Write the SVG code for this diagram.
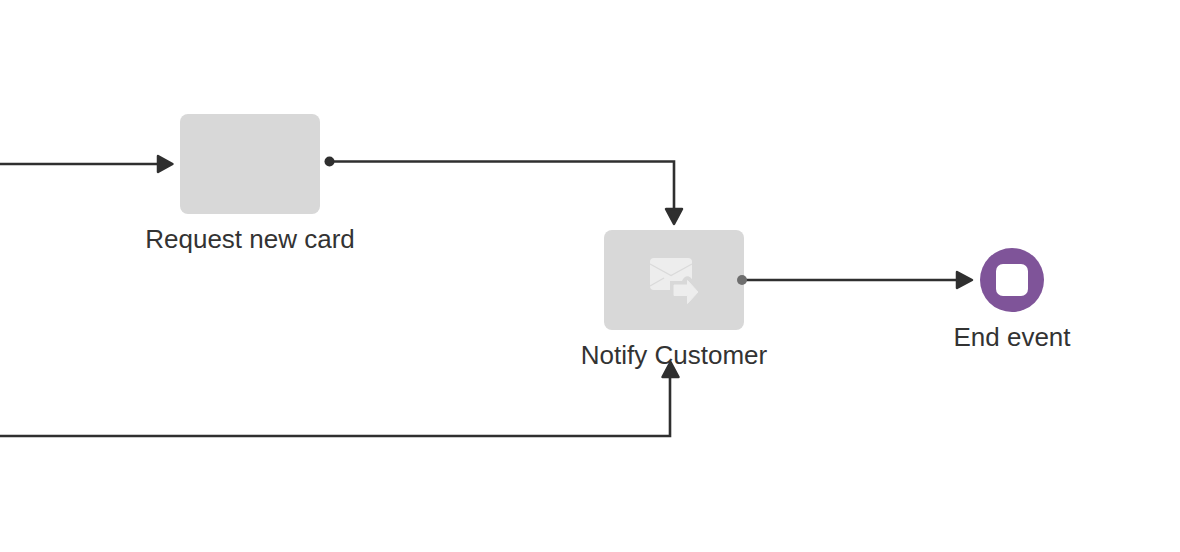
<svg xmlns="http://www.w3.org/2000/svg" width="1180" height="552" viewBox="0 0 1180 552">
<style>
.task{fill:#d8d8d8}
.lbl{font-family:"Liberation Sans",Arial,sans-serif;font-size:26px;fill:#333;text-anchor:middle}
.edge{fill:none;stroke:#2f2f2f;stroke-width:2.600;stroke-linejoin:miter}
.head{fill:#2f2f2f;stroke:#2f2f2f;stroke-width:2.500;stroke-linejoin:round}
</style>
<rect width="1180" height="552" fill="#fff"/>
<g id="node-request">
<rect class="task" x="180" y="114" width="140" height="100" rx="8"/>
<text class="lbl" x="250" y="248">Request new card</text>
</g>
<g id="node-notify">
<rect class="task" x="604" y="230" width="140" height="100" rx="8"/>
<g id="icon-send">
<rect x="650" y="258" width="42" height="32" rx="4" fill="#ededed"/>
<path d="M650 264L671 275.500L692 264M650 286L664 278" fill="none" stroke="#dadada" stroke-width="1.300"/>
<path d="M670 299V281H682C684 276 688 275 691 278L702 292L687 308H684V299Z" fill="#d8d8d8"/>
<path d="M674 295.500V285H687.500V280.500L698 292L687.500 303.500V295.500Z" fill="#ededed" stroke="#ededed" stroke-width="1" stroke-linejoin="round"/>
</g>
<text class="lbl" x="674" y="364">Notify Customer</text>
</g>
<g id="node-end">
<circle cx="1012" cy="280" r="32" fill="#7f5499"/>
<rect x="996" y="264" width="32" height="32" rx="7" fill="#fff"/>
<text class="lbl" x="1012" y="346">End event</text>
</g>
<g id="connectors">
<path class="edge" d="M0 164H160"/>
<path class="head" d="M158 156L172.500 164L158 172Z"/>
<path class="edge" d="M330 161.500H674V210"/>
<circle cx="329.500" cy="161.500" r="5" fill="#2f2f2f"/>
<path class="head" d="M666 209H682L674 224Z"/>
<path class="edge" d="M744 280H960"/>
<circle cx="742" cy="280" r="5" fill="#6e6e6e"/>
<path class="head" d="M957 272L972 280L957 288Z"/>
<path class="edge" d="M0 436H670V376"/>
<path class="head" d="M662.500 377H678.500L670.500 362Z"/>
</g>
</svg>
